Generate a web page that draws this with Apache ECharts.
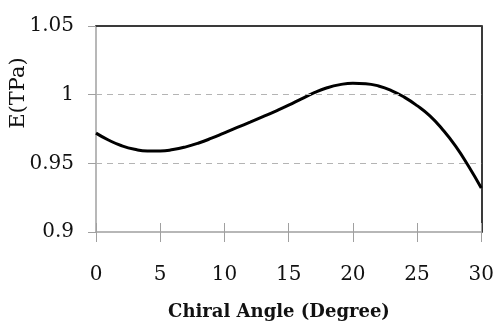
<!DOCTYPE html>
<html>
<head>
<meta charset="utf-8">
<style>
html, body { margin: 0; padding: 0; background: #fff; }
#chart { width: 497px; height: 322px; }
</style>
<script src="https://cdn.jsdelivr.net/npm/echarts@6/dist/echarts.min.js"></script>
</head>
<body>
<div id="chart"></div>
<script>
// chiral angle (deg) and Young's modulus E (TPa)
var angles = [0, 1, 2, 3, 4, 5, 6, 7, 8, 9, 10, 11, 12, 13, 14, 15,
	16, 17, 18, 19, 20, 21, 22, 23, 24, 25, 26, 27, 28, 29, 30];
var modulus = [0.9720, 0.9668, 0.9628, 0.9602, 0.9590, 0.9590, 0.9600, 0.9620, 0.9648, 0.9683, 0.9722,
	0.9761, 0.9800, 0.9840, 0.9881, 0.9924, 0.9970, 1.0014, 1.0050, 1.0073, 1.0083,
	1.0080, 1.0063, 1.0030, 0.9982, 0.9920, 0.9845, 0.9745, 0.9625, 0.9480, 0.9320];
var gridValues = [0.95, 1]; // dashed guide lines
var xName = 'Chiral Angle (Degree)';
var yName = 'E(TPa)';

var serif = '"DejaVu Serif", serif';
var axisGray = '#a0a0a0';
var borderDark = '#3a3a3a';
var pts = [];
for(var i = 0; i < angles.length; i++) {
	pts.push([angles[i], modulus[i]]);
}
var guides = [];
for(var g = 0; g < gridValues.length; g++) {
	guides.push({ yAxis: gridValues[g] });
}

function borderAxis(pos) {
	var isY = pos == 'right';
	return {
		type: 'value',
		position: pos,
		min: isY ? 0.9 : 0,
		max: isY ? 1.05 : 30,
		interval: isY ? 0.05 : 5,
		axisLine: { show: true, onZero: false, lineStyle: { color: borderDark, width: 2 } },
		axisTick: { show: false },
		axisLabel: { show: false },
		splitLine: { show: false }
	};
}

var chart = echarts.init(document.getElementById('chart'));
chart.setOption({
	animation: false,
	grid: {
		left: 96,
		right: 15,
		top: 26,
		bottom: 90
	},
	xAxis: [{
		type: 'value',
		position: 'bottom',
		min: 0,
		max: 30,
		interval: 5,
		axisLine: { show: true, onZero: false, lineStyle: { color: axisGray, width: 1.5 } },
		axisTick: { show: true, inside: false, length: 10, lineStyle: { color: axisGray, width: 1 } },
		axisLabel: { show: true, color: '#111', fontFamily: serif, fontSize: 20, margin: 33 },
		splitLine: { show: false }
	}, {
		type: 'value',
		position: 'bottom',
		min: 0,
		max: 30,
		interval: 5,
		axisLine: { show: false },
		axisTick: { show: true, inside: true, length: 9, lineStyle: { color: axisGray, width: 1 } },
		axisLabel: { show: false },
		splitLine: { show: false }
	}, borderAxis('top')],
	yAxis: [{
		type: 'value',
		position: 'left',
		min: 0.9,
		max: 1.05,
		interval: 0.05,
		axisLine: { show: true, onZero: false, lineStyle: { color: axisGray, width: 1.5 } },
		axisTick: { show: true, inside: false, length: 8, lineStyle: { color: axisGray, width: 1 } },
		axisLabel: { show: true, color: '#111', fontFamily: serif, fontSize: 20, margin: 22 },
		splitLine: { show: false }
	}, borderAxis('right')],
	graphic: [{
		type: 'text',
		x: 19,
		y: 93,
		rotation: Math.PI / 2,
		style: {
			text: yName,
			font: '21px ' + serif,
			fill: '#111',
			align: 'center',
			verticalAlign: 'middle'
		}
	}, {
		type: 'text',
		x: 279,
		y: 312,
		style: {
			text: xName,
			font: 'bold 18px ' + serif,
			fill: '#111',
			align: 'center',
			verticalAlign: 'middle'
		}
	}],
	series: [{
		type: 'line',
		xAxisIndex: 0,
		yAxisIndex: 0,
		data: pts,
		smooth: true,
		showSymbol: false,
		lineStyle: { color: '#000', width: 3 },
		markLine: {
			silent: true,
			symbol: 'none',
			label: { show: false },
			lineStyle: { color: '#b4b4b4', type: [6, 5], width: 1 },
			data: guides
		}
	}]
});
</script>
</body>
</html>
